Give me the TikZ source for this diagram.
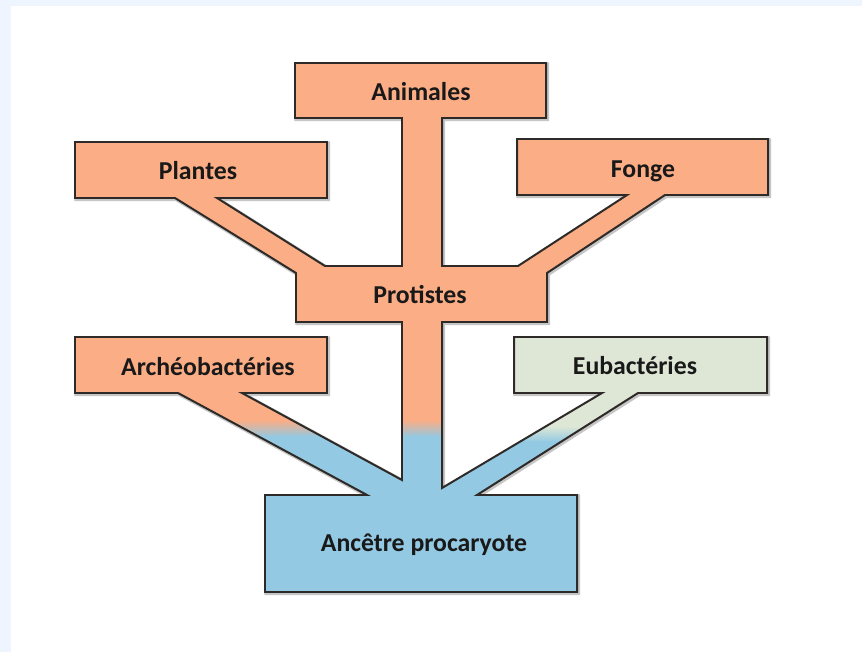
\documentclass[tikz,border=0pt]{standalone}
\usepackage{fontspec}
\setmainfont{Carlito}
\definecolor{bgblue}{HTML}{EEF5FE}
\definecolor{orangefill}{HTML}{FBAD85}
\definecolor{bluefill}{HTML}{93C9E2}
\definecolor{greenfill}{HTML}{DEE7D6}
\definecolor{edge}{HTML}{2E2A28}
\newcommand\treeshape{(295,63) -- (546,63) -- (546,118) -- (442,118) -- (442,266) -- (518,266) -- (627,195) -- (517,195) -- (517,139) -- (768,139) -- (768,195) -- (665,195) -- (547,273) -- (547,322) -- (442,322) -- (442,488) -- (602,393) -- (514,393) -- (514,337) -- (767,337) -- (767,393) -- (638,393) -- (477,495) -- (577,495) -- (577,592) -- (265,592) -- (265,495) -- (367,495) -- (178,393) -- (75,393) -- (75,337) -- (327,337) -- (327,393) -- (242,393) -- (402,480) -- (402,322) -- (296,322) -- (296,273) -- (175,198) -- (75,198) -- (75,142) -- (327,142) -- (327,198) -- (217,198) -- (325,266) -- (402,266) -- (402,118) -- (295,118) -- cycle}
\tikzset{
  label/.style={font=\bfseries\fontsize{22}{26}\selectfont, text=black!90, inner sep=0pt},
}
\begin{document}
\begin{tikzpicture}[x=0.03cm,y=-0.03cm]
\useasboundingbox (0,0) rectangle (862,652);
\fill[bgblue] (0,0) rectangle (862,652);
\fill[white] (11,6) rectangle (862,652);
% shadow
\draw[gray!45, line width=3.2pt, line join=miter, shift={(1.2,1.2)}] \treeshape;
\begin{scope}
\clip \treeshape;
\fill[orangefill] (0,0) rectangle (862,421);
\shade[top color=orangefill, bottom color=bluefill] (0,420) rectangle (448,437);
\fill[greenfill] (448,330) rectangle (862,427);
\shade[top color=greenfill, bottom color=bluefill] (448,426) rectangle (862,442);
\fill[bluefill] (0,436) rectangle (448,652);
\fill[bluefill] (448,441) rectangle (862,652);
\end{scope}
\draw[edge, line width=1.7pt, line join=miter] \treeshape;
\node[label] (animales) at (421,92) {Animales};
\node[label] (plantes) at (198,171) {Plantes};
\node[label] (fonge) at (643,171) {Fonge};
\node[label] (protistes) at (420,295) {Protistes};
\node[label] (archeo) at (208,367) {Archéobactéries};
\node[label] (eubac) at (635,366) {Eubactéries};
\node[label] (ancetre) at (424,545) {Ancêtre procaryote};
\end{tikzpicture}
\end{document}
